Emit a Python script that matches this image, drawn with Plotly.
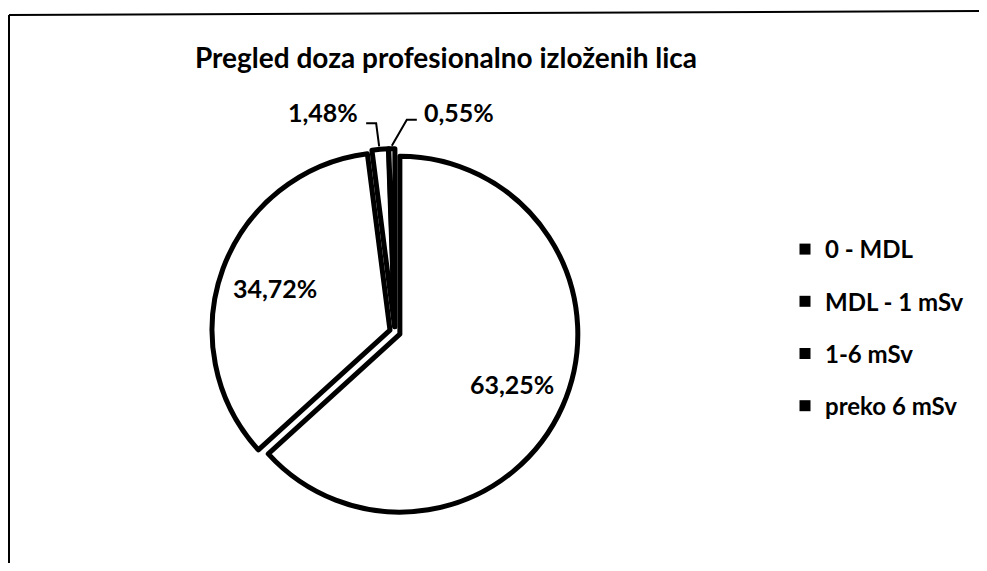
import math

import plotly.graph_objects as go

# Data
labels = ["0 - MDL", "MDL - 1 mSv", "1-6 mSv", "preko 6 mSv"]
values = [63.25, 34.72, 1.48, 0.55]
pct_text = [f"{v:.2f}%".replace(".", ",") for v in values]
small = [v < 5 for v in values]

# the page body adds an 8px margin, so the figure is 16px smaller than the window
W, H = 971, 555
PULL = 0.03
DOM_X = [0.2098, 0.5873]
DOM_Y = [0.0859, 0.7465]
FONT = "Lato"
BOLD = dict(family=FONT, color="black", weight="bold")


def to_paper(px, py):
    return px / W, 1 - py / H


fig = go.Figure()

fig.add_trace(go.Pie(
    labels=labels,
    values=values,
    textinfo="none",
    sort=False,
    direction="clockwise",
    rotation=0,
    pull=PULL,
    marker=dict(colors=["white"] * len(values),
                line=dict(color="black", width=5)),
    domain=dict(x=DOM_X, y=DOM_Y),
    showlegend=False,
    hoverinfo="label+percent",
))

# Legend: one black square per category
for i, lab in enumerate(labels):
    fig.add_trace(go.Scatter(
        x=[None], y=[None], mode="markers", name=lab,
        marker=dict(symbol="square", size=11, color="black"),
        legendgroup=f"g{i}",
    ))

# Percentage labels, placed from the slice angles (Excel "best fit" style)
r = min(W * (DOM_X[1] - DOM_X[0]), H * (DOM_Y[1] - DOM_Y[0])) / 2 / (1 + PULL)
cx_px = W * (DOM_X[0] + DOM_X[1]) / 2
cy_px = H * (1 - (DOM_Y[0] + DOM_Y[1]) / 2)
total = sum(values)

# leader geometry for thin slices: text offset and elbow points from the tip
leaders = {
    2: dict(text=(-57, -37), path=[(-14, -26), (-4, -26), (-1, -3)]),
    3: dict(text=(67, -37), path=[(25, -29), (15, -29), (0, -3)]),
}

cum = 0.0
for i, v in enumerate(values):
    mid = 2 * math.pi * (cum + v / 2) / total
    cum += v
    sx, sy = math.sin(mid), -math.cos(mid)
    if not small[i]:
        lx, ly = to_paper(cx_px + 0.72 * r * sx, cy_px + 0.72 * r * sy)
    else:
        tx = cx_px + r * (1 + PULL) * sx
        ty = cy_px + r * (1 + PULL) * sy
        ox, oy = leaders[i]["text"]
        lx, ly = to_paper(tx + ox, ty + oy)
        pts = [to_paper(tx + dx, ty + dy) for dx, dy in leaders[i]["path"]]
        path = "M " + " L ".join(f"{a},{b}" for a, b in pts)
        fig.add_shape(type="path", xref="paper", yref="paper", path=path,
                      line=dict(color="black", width=2))
    fig.add_annotation(x=lx, y=ly, xref="paper", yref="paper",
                       xanchor="center", yanchor="middle",
                       text=pct_text[i], showarrow=False,
                       font=dict(size=25, **BOLD))

# scanned page frame
fig.add_shape(type="line", xref="paper", yref="paper",
              x0=1 / W, x1=1.0, y0=1 - 7 / H, y1=1 - 3 / H,
              line=dict(color="black", width=2))
fig.add_shape(type="line", xref="paper", yref="paper",
              x0=1 / W, x1=1 / W, y0=0, y1=1 - 7 / H,
              line=dict(color="black", width=2))

fig.update_layout(
    width=W, height=H,
    margin=dict(l=0, r=0, t=0, b=0),
    paper_bgcolor="white",
    plot_bgcolor="white",
    title=dict(text="Pregled doza profesionalno izloženih lica",
               x=438 / W, xanchor="center", y=1 - 50 / H, yanchor="middle",
               font=dict(size=28, **BOLD)),
    xaxis=dict(visible=False),
    yaxis=dict(visible=False),
    legend=dict(x=777 / W, xanchor="left", y=1 - 219 / H, yanchor="top",
                tracegroupgap=18, bgcolor="rgba(0,0,0,0)",
                font=dict(size=24, **BOLD)),
)

fig.write_html("out.html")
